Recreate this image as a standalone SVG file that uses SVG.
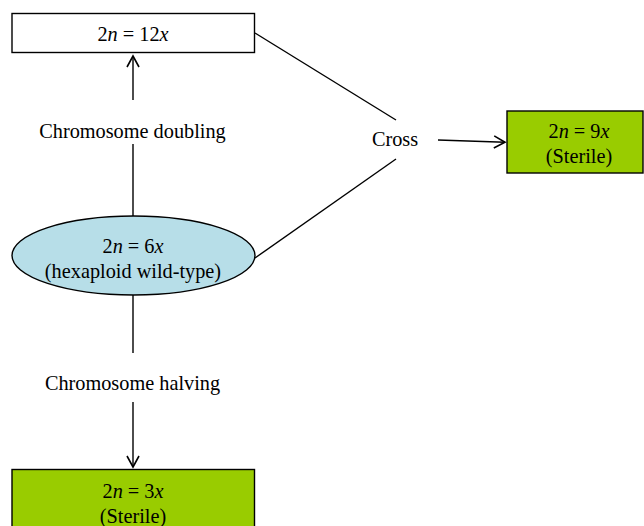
<svg xmlns="http://www.w3.org/2000/svg" width="644" height="526" viewBox="0 0 644 526">
<style>
text{font-family:"Liberation Serif","Times New Roman",serif;font-size:20.3px;fill:#000;text-anchor:middle}
.i{font-style:italic}
.ln{stroke:#000;stroke-width:1.4;fill:none}
.box{stroke:#000;stroke-width:1.4}
</style>
<defs>
<marker id="ah" markerUnits="userSpaceOnUse" markerWidth="20" markerHeight="20" refX="0" refY="0" viewBox="-14 -10 16 20" orient="auto" overflow="visible">
<path d="M-11,-6 L0,0 L-11,6" fill="none" stroke="#000" stroke-width="1.6"/>
</marker>
</defs>
<rect width="644" height="526" fill="#fff"/>
<g id="connectors">
<line class="ln" x1="133" y1="100" x2="133" y2="56" marker-end="url(#ah)"/>
<line class="ln" x1="133" y1="144" x2="133" y2="216"/>
<line class="ln" x1="133" y1="295" x2="133" y2="353"/>
<line class="ln" x1="133" y1="402" x2="133" y2="467" marker-end="url(#ah)"/>
<line class="ln" x1="255" y1="33" x2="396" y2="120"/>
<line class="ln" x1="255" y1="258" x2="396" y2="159"/>
<line class="ln" x1="438" y1="140" x2="505" y2="142.3" stroke-width="2" marker-end="url(#ah)"/>
</g>
<g id="node-12x">
<rect class="box" x="12" y="13.5" width="242.5" height="39" fill="#fff"/>
<text x="133" y="40.5">2<tspan class="i">n</tspan> = 12<tspan class="i">x</tspan></text>
</g>
<g id="label-doubling">
<text x="132.5" y="138">Chromosome doubling</text>
</g>
<g id="node-6x">
<ellipse class="box" cx="133.5" cy="255.5" rx="121.5" ry="39.5" fill="#B7DEE8"/>
<text x="133" y="253">2<tspan class="i">n</tspan> = 6<tspan class="i">x</tspan></text>
<text x="133" y="278">(hexaploid wild-type)</text>
</g>
<g id="label-halving">
<text x="132.5" y="390">Chromosome halving</text>
</g>
<g id="node-3x">
<rect class="box" x="12" y="469.5" width="242.5" height="70" fill="#99CC00"/>
<text x="133" y="498">2<tspan class="i">n</tspan> = 3<tspan class="i">x</tspan></text>
<text x="133" y="523">(Sterile)</text>
</g>
<g id="label-cross">
<text x="395" y="146">Cross</text>
</g>
<g id="node-9x">
<rect class="box" x="507" y="111" width="136" height="62" fill="#99CC00"/>
<text x="579" y="138">2<tspan class="i">n</tspan> = 9<tspan class="i">x</tspan></text>
<text x="579" y="163">(Sterile)</text>
</g>
</svg>
